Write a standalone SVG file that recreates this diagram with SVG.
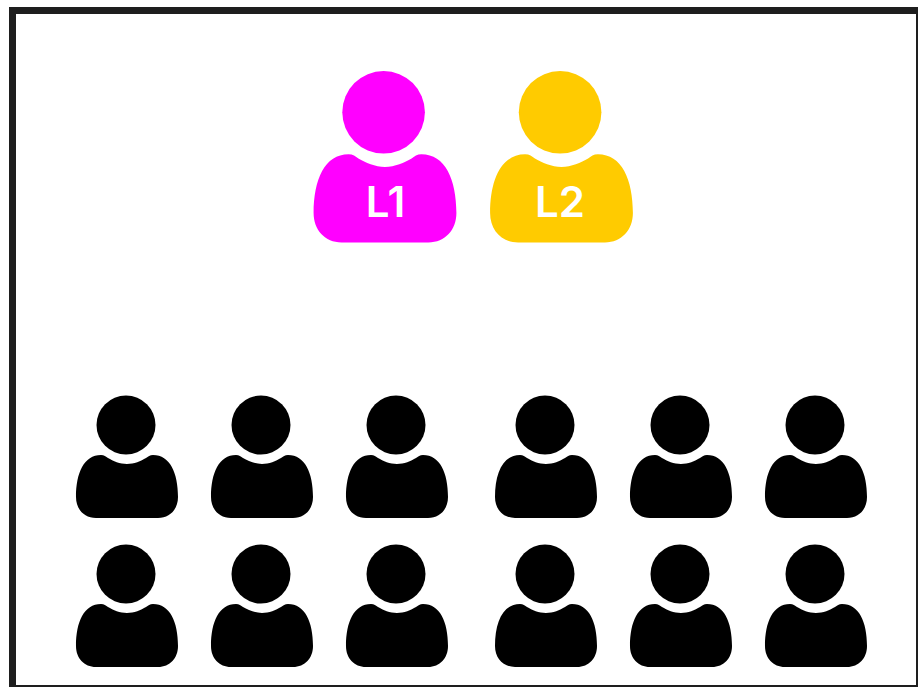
<svg xmlns="http://www.w3.org/2000/svg" width="918" height="687" viewBox="0 0 918 687">
<style>
.label{font-family:"Inter","Liberation Sans",sans-serif;font-size:42px;font-weight:600;fill:#fff;text-anchor:middle}
.frame{fill:none;stroke:#1e1e1e}
</style>
<defs>
<symbol id="person" overflow="visible">
<circle cx="-1" cy="0" r="29.500"/>
<path d="M0,39 C-7,39 -14,36 -19,33 C-21,31.500 -23,30 -26,30 C-43,30 -51,48 -51,72 C-51,84 -43,93 -31,93 L31,93 C43,93 51,84 51,72 C51,48 43,30 26,30 C23,30 21,31.500 19,33 C14,36 7,39 0,39Z"/>
</symbol>
</defs>
<rect width="918" height="687" fill="#fff"/>
<path class="frame" stroke-width="7" d="M12.500,687V10.500H918"/>
<path class="frame" stroke-width="2" d="M917,10V686H12"/>
<g id="L1" fill="#ff00ff"><use href="#person" transform="translate(385,112.300) scale(1.400)"/><text class="label" x="385.500" y="217">L1</text></g>
<g id="L2" fill="#ffcb00"><use href="#person" transform="translate(561.500,112.300) scale(1.400)"/><text class="label" x="560" y="217">L2</text></g>
<g id="p1"><use href="#person" x="127" y="425"/></g>
<g id="p2"><use href="#person" x="262" y="425"/></g>
<g id="p3"><use href="#person" x="397" y="425"/></g>
<g id="p4"><use href="#person" x="546" y="425"/></g>
<g id="p5"><use href="#person" x="681" y="425"/></g>
<g id="p6"><use href="#person" x="816" y="425"/></g>
<g id="p7"><use href="#person" x="127" y="574"/></g>
<g id="p8"><use href="#person" x="262" y="574"/></g>
<g id="p9"><use href="#person" x="397" y="574"/></g>
<g id="p10"><use href="#person" x="546" y="574"/></g>
<g id="p11"><use href="#person" x="681" y="574"/></g>
<g id="p12"><use href="#person" x="816" y="574"/></g>
<g id="connectors"/>
</svg>
